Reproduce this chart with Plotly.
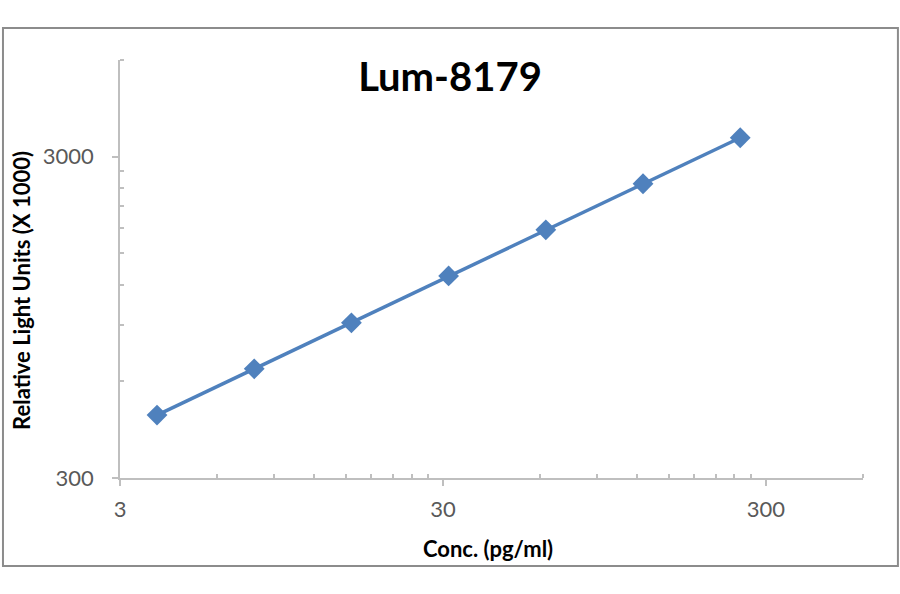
import plotly.graph_objects as go

# standard curve data
conc = [3.90625, 7.8125, 15.625, 31.25, 62.5, 125, 250]
rlu = [471, 656, 912, 1277, 1777, 2472, 3437]

x_major = [3, 30, 300]
x_minor = [6, 9, 12, 15, 18, 21, 24, 27, 60, 90, 120, 150, 180, 210, 240, 270, 600]
y_major = [300, 3000]
y_minor = [600, 900, 1200, 1500, 1800, 2100, 2400, 2700, 6000]

blue = '#4f81bd'
axis_grey = '#bfbfbf'
font_name = 'Lato, Open Sans, sans-serif'

fig = go.Figure(go.Scatter(
    x=conc, y=rlu,
    mode='lines+markers',
    line=dict(color=blue, width=3.5),
    marker=dict(symbol='diamond', size=16, color=blue),
    showlegend=False,
))

fig.update_xaxes(
    type='log', range=[0.4771, 2.7782],
    tickvals=x_major, ticktext=[str(v) for v in x_major],
    ticks='outside', ticklen=6, tickcolor=axis_grey, tickwidth=1.5,
    showline=True, linecolor=axis_grey, linewidth=1.5,
    showgrid=False, zeroline=False,
    minor=dict(tickvals=x_minor, ticks='inside', ticklen=4, tickcolor=axis_grey, showgrid=False),
    tickfont=dict(family=font_name, size=22, color='#595959'),
    ticklabelstandoff=5,
)
fig.update_yaxes(
    type='log', range=[2.4771, 3.7782],
    tickvals=y_major, ticktext=[str(v) for v in y_major],
    ticks='outside', ticklen=6, tickcolor=axis_grey, tickwidth=1.5,
    showline=True, linecolor=axis_grey, linewidth=1.5,
    showgrid=False, zeroline=False,
    minor=dict(tickvals=y_minor, ticks='inside', ticklen=4, tickcolor=axis_grey, showgrid=False),
    tickfont=dict(family=font_name, size=22, color='#595959'),
    ticklabelstandoff=14,
)

# axis titles
fig.add_annotation(text='<b>Conc. (pg/ml)</b>', xref='paper', yref='paper',
                   x=0.4953, y=-0.1675, xanchor='center', yanchor='middle', showarrow=False,
                   font=dict(family=font_name, size=22, color='black'))
fig.add_annotation(text='<b>Relative Light Units (X 1000)</b>', xref='paper', yref='paper',
                   x=-0.1319, y=0.4498, xanchor='center', yanchor='middle', showarrow=False,
                   textangle=-90,
                   font=dict(family=font_name, size=22, color='black'))

# outer chart frame
fig.add_shape(type='rect', xref='paper', yref='paper',
              x0=-0.1575, x1=1.047, y0=-0.2105, y1=1.0766,
              line=dict(color='#8c8c8c', width=2))

fig.update_layout(
    width=900, height=594,
    margin=dict(l=120, r=37, t=60, b=116),
    paper_bgcolor='white', plot_bgcolor='white',
    title=dict(text='<b>Lum-8179</b>', x=0.5, xanchor='center', y=0.8704, yanchor='middle',
               font=dict(family=font_name, size=40, color='black')),
)

# drop the default page margin so the figure sits at the window corner
fig.write_html("out.html", config={'displayModeBar': False},
               post_script="document.body.style.margin='0px';")
